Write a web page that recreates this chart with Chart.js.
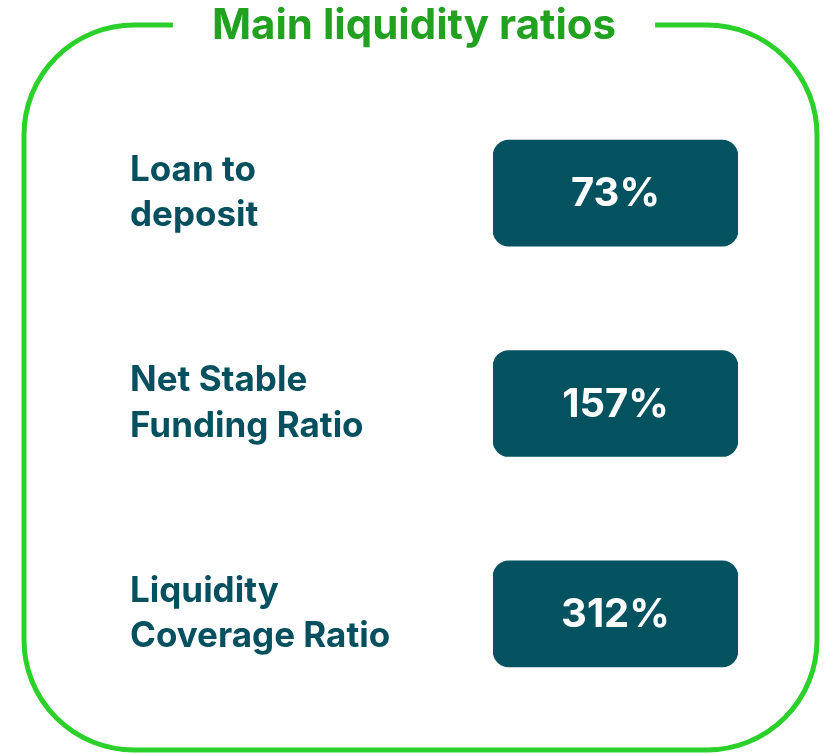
<!DOCTYPE html>
<html>
<head>
<meta charset="utf-8">
<title>Main liquidity ratios</title>
<script src="https://cdn.jsdelivr.net/npm/chart.js@4.4.0/dist/chart.umd.min.js"></script>
<style>
    html, body { margin: 0; padding: 0; background: #ffffff; }
    #wrap { width: 825px; height: 754px; position: relative; }
</style>
</head>
<body>
<div id="wrap"><canvas id="ratiosChart"></canvas></div>
<script>
// Datos del gráfico
const TITLE = 'Main liquidity ratios';
const RATIO_LABELS = [
    ['Loan to', 'deposit'],
    ['Net Stable', 'Funding Ratio'],
    ['Liquidity', 'Coverage Ratio']
];
const RATIO_VALUES = [73, 157, 312];
const VALUE_SUFFIX = '%';

const TEAL = '#02525f';
const LABEL_COLOR = '#04505e';
const FRAME_GREEN = '#2bd02b';
const TITLE_GREEN = '#22a020';
const TITLE_FONT = 'bold 42px Inter';

// Marco redondeado con hueco para el título
const framePlugin = {
    id: 'frame',
    beforeDraw(chart) {
        const ctx = chart.ctx;
        const left = 24, top = 25, right = 817, bottom = 750, r = 110;
        const cx = 414;

        ctx.save();
        ctx.font = TITLE_FONT;
        const half = ctx.measureText(TITLE).width / 2 + 39;

        ctx.beginPath();
        ctx.moveTo(cx + half, top);
        ctx.arcTo(right, top, right, bottom, r);
        ctx.arcTo(right, bottom, left, bottom, r);
        ctx.arcTo(left, bottom, left, top, r);
        ctx.arcTo(left, top, right, top, r);
        ctx.lineTo(cx - half, top);
        ctx.lineWidth = 5;
        ctx.strokeStyle = FRAME_GREEN;
        ctx.stroke();

        ctx.fillStyle = TITLE_GREEN;
        ctx.textAlign = 'center';
        ctx.textBaseline = 'alphabetic';
        ctx.fillText(TITLE, cx, 39);
        ctx.restore();
    }
};

// Valores dentro de cada caja
const valueLabels = {
    id: 'valueLabels',
    afterDatasetsDraw(chart) {
        const ctx = chart.ctx;
        const meta = chart.getDatasetMeta(0);
        ctx.save();
        ctx.font = 'bold 40px Inter';
        ctx.fillStyle = '#ffffff';
        ctx.textAlign = 'center';
        ctx.textBaseline = 'middle';
        meta.data.forEach((bar, i) => {
            const { x, y, base } = bar.getProps(['x', 'y', 'base'], true);
            ctx.fillText(RATIO_VALUES[i] + VALUE_SUFFIX, (x + base) / 2, y + 1);
        });
        ctx.restore();
    }
};

new Chart(document.getElementById('ratiosChart'), {
    type: 'bar',
    data: {
        labels: RATIO_LABELS,
        datasets: [{
            data: RATIO_VALUES.map(() => 1),
            backgroundColor: TEAL,
            borderRadius: 16,
            borderSkipped: false,
            barThickness: 106
        }]
    },
    options: {
        indexAxis: 'y',
        responsive: true,
        maintainAspectRatio: false,
        animation: false,
        layout: {
            padding: { left: 130, right: 87, top: 88, bottom: 35 }
        },
        plugins: {
            legend: { display: false },
            tooltip: { enabled: false }
        },
        scales: {
            x: { display: false, min: 0, max: 1 },
            y: {
                grid: { display: false },
                border: { display: false },
                ticks: {
                    crossAlign: 'far',
                    padding: 0,
                    color: LABEL_COLOR,
                    font: { family: 'Inter', size: 35, weight: 'bold', lineHeight: 1.29 }
                },
                afterFit(scale) {
                    scale.width = 363;
                    scale.paddingTop = 0;
                    scale.paddingBottom = 0;
                }
            }
        }
    },
    plugins: [framePlugin, valueLabels]
});
</script>
</body>
</html>
